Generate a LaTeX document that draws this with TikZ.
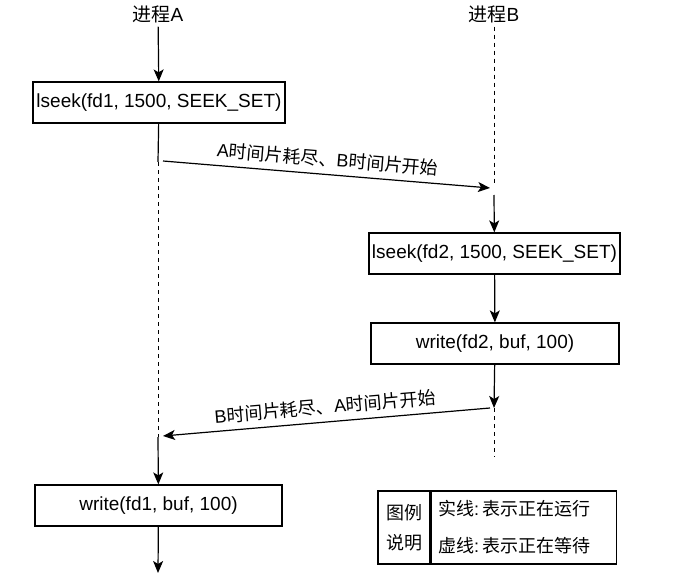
\documentclass[tikz,border=0pt]{standalone}
\usepackage{fontspec}
\setmainfont{Liberation Sans}
\newfontfamily\cjk{Noto Sans CJK SC}
\usepackage{tikz}
\usetikzlibrary{arrows.meta}
\usetikzlibrary{shapes}

\begin{document}
\begin{tikzpicture}[x=1pt, y=-1pt, >={Stealth[length=12pt, width=10pt, inset=3pt]},
  line width=1.2pt, font=\fontsize{19}{22}\selectfont,
  box/.style={draw, rectangle, minimum height=41pt, inner sep=0pt},
  wait/.style={dash pattern=on 4pt off 4pt, line width=1pt}]

\useasboundingbox (0,0) rectangle (699,586);

% Define nodes
\node (titleA) at (158,14) {{\cjk 进程}A};
\node (titleB) at (494,14) {{\cjk 进程}B};
\node (seekA) [box, minimum width=252pt] at (159,102.5) {lseek(fd1, 1500, SEEK\_SET)};
\node (seekB) [box, minimum width=251pt] at (494.5,253.5) {lseek(fd2, 1500, SEEK\_SET)};
\node (writeB) [box, minimum width=248pt] at (495,343.5) {write(fd2, buf, 100)};
\node (writeA) [box, minimum width=247pt] at (158.5,505.5) {write(fd1, buf, 100)};

% Points on the lanes
\coordinate (a1) at (158,162);
\coordinate (a2) at (158,437);
\coordinate (aEnd) at (158,573);
\coordinate (b1) at (494,186);
\coordinate (b2) at (494,195);
\coordinate (b3) at (494,408);
\coordinate (b4) at (494,457);
\coordinate (swA) at (163,161);
\coordinate (swB) at (490,188);
\coordinate (swC) at (490,408);
\coordinate (swD) at (163,436);

% Legend
\node (legendL) [draw, minimum width=52pt, minimum height=73pt, inner sep=0pt, align=center,
  font=\cjk\fontsize{18}{30}\selectfont] at (404,527.5) {图例\\说明};
\node (legendR) [draw, minimum width=185pt, minimum height=73pt, inner sep=7pt, align=left,
  text width=171pt, font=\fontsize{18}{37}\selectfont, anchor=west] at (legendL.east)
  {{\cjk 实线}:\,{\cjk 表示正在运行}\\{\cjk 虚线}:\,{\cjk 表示正在等待}};

% Process A
\draw[->] (titleA) -- (seekA);
\draw (seekA) -- (a1);
\draw[wait] (a1) -- (a2);
\draw[->] (a2) -- (writeA);
\draw[->] (writeA) -- (aEnd);

% Process B
\draw[wait] (titleB) -- (b1);
\draw[->] (b2) -- (seekB);
\draw[->] (seekB) -- (writeB);
\draw[->] (writeB) -- (b3);
\draw[wait] (b3) -- (b4);

% Switches
\draw[->] (swA) -- node[sloped, above=3pt, font=\fontsize{18}{21}\selectfont]
  {A{\cjk 时间片耗尽、}B{\cjk 时间片开始}} (swB);
\draw[->] (swC) -- node[sloped, above=3pt, font=\fontsize{18}{21}\selectfont]
  {B{\cjk 时间片耗尽、}A{\cjk 时间片开始}} (swD);

\end{tikzpicture}
\end{document}
